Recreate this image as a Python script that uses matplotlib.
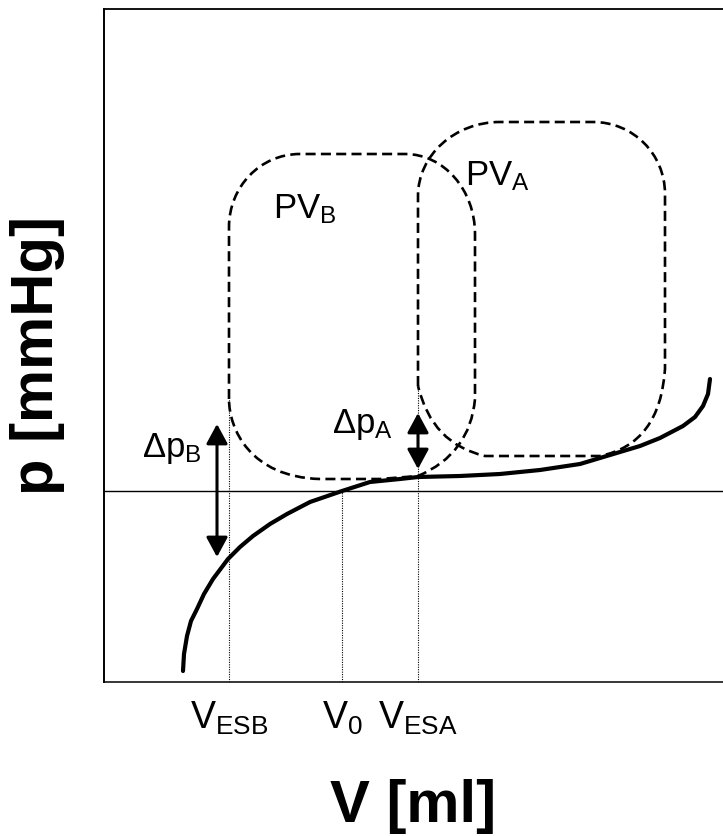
import matplotlib
matplotlib.use("Agg")
import matplotlib.pyplot as plt
from matplotlib.path import Path
from matplotlib.patches import PathPatch

plt.rcParams["font.family"] = ["Liberation Sans", "DejaVu Sans"]
plt.rcParams["mathtext.fontset"] = "custom"
plt.rcParams["mathtext.rm"] = "Liberation Sans"
plt.rcParams["mathtext.it"] = "Liberation Sans:italic"
plt.rcParams["mathtext.bf"] = "Liberation Sans:bold"

# pressure-volume relation (V in ml, p in mmHg, arbitrary scale)
curve_v = [79, 80, 83, 87, 93, 100, 109, 124, 136, 149, 166, 183, 206, 238,
           266, 296, 314, 356, 396, 436, 476, 496, 516, 536, 556, 579, 591,
           599, 604, 606]
curve_p = [-180, -163, -145, -130, -118, -103, -88, -68, -56, -45, -33, -23,
           -11, 0, 9, 12, 14, 15, 17, 21, 27, 33, 39, 45, 53, 65, 74, 85, 97,
           112]

# characteristic volumes
v_esb, v_0, v_esa = 125, 238, 314
vol_ticks = [v_esb, v_0, v_esa]
vol_labels = [r"$\mathrm{V_{ESB}}$", r"$\mathrm{V_0}$", r"$\mathrm{V_{ESA}}$"]

# end-systolic points where the dotted guides end
guide_top = [92, 0, 107]

# loop outlines: vertices and path codes
loop_b_v = [125, 125, 125, 156, 196, 301, 340, 371, 371, 371, 366, 314, 276,
            216, 146, 125, 125]
loop_b_p = [92, 264, 304, 337, 337, 337, 337, 301, 257, 92, 37, 15, 12, 12,
            14, 62, 92]
loop_b_codes = [Path.MOVETO, Path.LINETO, Path.CURVE4, Path.CURVE4,
                Path.CURVE4, Path.LINETO, Path.CURVE4, Path.CURVE4,
                Path.CURVE4, Path.LINETO, Path.CURVE3, Path.CURVE3,
                Path.LINETO, Path.LINETO, Path.CURVE4, Path.CURVE4,
                Path.CURVE4]

loop_a_v = [314, 314, 314, 351, 396, 489, 529, 561, 561, 561, 556, 496, 381,
            328, 314]
loop_a_p = [105, 295, 336, 369, 369, 369, 369, 337, 297, 122, 47, 35, 35,
            47, 105]
loop_a_codes = [Path.MOVETO, Path.LINETO, Path.CURVE4, Path.CURVE4,
                Path.CURVE4, Path.LINETO, Path.CURVE4, Path.CURVE4,
                Path.CURVE4, Path.LINETO, Path.CURVE3, Path.CURVE3,
                Path.LINETO, Path.CURVE3, Path.CURVE3]

# pressure differences (arrows)
dp_b_v, dp_b_top, dp_b_bot = 113, 67, -66
dp_a_v, dp_a_top, dp_a_bot = 314, 78, 22

fig = plt.figure(figsize=(7.23, 8.37), dpi=100)
ax = fig.add_axes([104 / 723, 1 - 683 / 837, 1 - 104 / 723, 673 / 837])
ax.set_xlim(0, 619)
ax.set_ylim(-191, 482)

# frame
ax.spines["right"].set_visible(False)
ax.spines["left"].set_linewidth(1.4)
ax.spines["top"].set_linewidth(1.3)
ax.spines["bottom"].set_linewidth(1.1)

ax.axhline(0, color="black", lw=1.0)

# dotted guides
for v, top in zip(vol_ticks, guide_top):
    ax.plot([v, v], [-191, top], color="black", lw=0.8,
            linestyle=(0, (1, 1.2)))

# loops
for lv, lp, codes in [(loop_b_v, loop_b_p, loop_b_codes),
                      (loop_a_v, loop_a_p, loop_a_codes)]:
    path = Path(list(zip(lv, lp)), codes)
    ax.add_patch(PathPatch(path, facecolor="none", edgecolor="black",
                           lw=1.9, linestyle=(0, (3.8, 2.0))))

ax.plot(curve_v, curve_p, color="black", lw=3, solid_capstyle="round")

# arrows
arrow = dict(arrowstyle="<|-|>,head_length=1.2,head_width=0.65",
             color="black", lw=2.2, shrinkA=0, shrinkB=0)
ax.annotate("", xy=(dp_b_v, dp_b_bot), xytext=(dp_b_v, dp_b_top),
            arrowprops=arrow)
ax.annotate("", xy=(dp_a_v, dp_a_bot), xytext=(dp_a_v, dp_a_top),
            arrowprops=arrow)

# labels
ax.text(98, 35, r"$\mathrm{\Delta p_B}$", fontsize=25, ha="right",
        va="baseline")
ax.text(289, 59, r"$\mathrm{\Delta p_A}$", fontsize=25, ha="right",
        va="baseline")
ax.text(169, 274, r"$\mathrm{PV_B}$", fontsize=25, ha="left", va="baseline")
ax.text(361, 307, r"$\mathrm{PV_A}$", fontsize=25, ha="left", va="baseline")

ax.set_xticks(vol_ticks)
ax.set_xticklabels(vol_labels, fontsize=27)
ax.set_yticks([])
ax.tick_params(axis="x", length=0, pad=12)

ax.set_xlabel("V [ml]", fontsize=43, fontweight="bold", labelpad=30)
ax.set_ylabel("p [mmHg]", fontsize=43, fontweight="bold")
ax.yaxis.set_label_coords(-0.063, 0.486)

fig.savefig("out.png", dpi=100)
